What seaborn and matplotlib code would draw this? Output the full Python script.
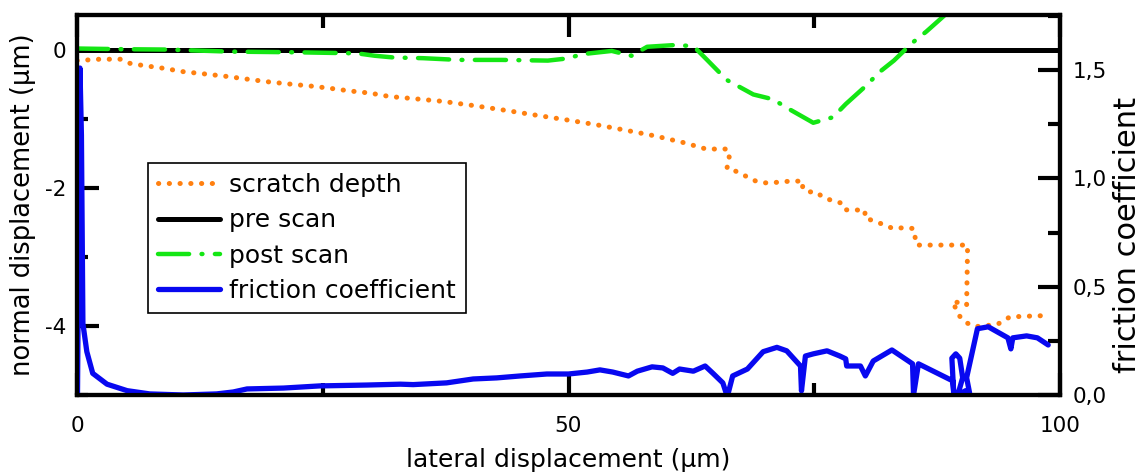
import matplotlib
matplotlib.use("Agg")
import matplotlib.pyplot as plt
from matplotlib.ticker import MultipleLocator, FixedLocator, FuncFormatter
import seaborn as sns
import pandas as pd

# scratch depth (um), left axis
depth_x = [0, 2.3, 4.4, 5.4, 6.7, 8.75, 10.8, 12.8, 15.3, 17.4, 19.6, 21.7, 23.9, 25.7,
           27.8, 29.8, 31.8, 34.2, 37.2, 40.3, 43.6, 46.7, 49.9, 52.9, 55.9, 58.8,
           61.8, 64.0, 66.2, 66.4, 66.1, 67.0, 68.0, 69.0, 69.9, 71.5, 72.8, 73.9,
           73.8, 74.3, 75.2, 75.9, 76.9, 77.7, 78.1, 79.1, 80.2, 80.1, 81.0, 82.0,
           83.0, 84.0, 85.1, 85.4, 90.6, 90.5, 89.1, 89.6, 90.4, 91.4, 93.6, 94.9,
           96.5, 98.8]
depth_y = [-0.16, -0.14, -0.14, -0.20, -0.23, -0.27, -0.32, -0.35, -0.39, -0.43, -0.47,
           -0.50, -0.53, -0.56, -0.60, -0.63, -0.68, -0.71, -0.75, -0.81, -0.88, -0.95,
           -1.02, -1.09, -1.17, -1.25, -1.35, -1.44, -1.44, -1.60, -1.72, -1.76, -1.83,
           -1.90, -1.93, -1.92, -1.90, -1.91, -2.00, -2.06, -2.06, -2.14, -2.19, -2.22,
           -2.32, -2.32, -2.33, -2.43, -2.48, -2.53, -2.59, -2.58, -2.59, -2.83, -2.83,
           -3.70, -3.64, -3.83, -3.95, -4.01, -3.98, -3.87, -3.86, -3.85]

# pre scan (um), left axis
pre_x = [0, 100]
pre_y = [0, 0]

# post scan (um), left axis
post_x = [0, 4.7, 9, 15.6, 22.4, 28.5, 30.3, 32.2, 35.2, 38.8, 43.2, 47.9, 49.8, 51.5,
          54.4, 56.4, 58, 60.8, 62.7, 64.1, 66.1, 68.8, 70.8, 72.3, 74.9, 76.9, 78.2,
          80.3, 81.6, 83.1, 85, 86.4, 87.9, 90]
post_y = [0.015, 0.005, 0.0, -0.03, -0.04, -0.055, -0.09, -0.115, -0.125, -0.15, -0.15,
          -0.16, -0.13, -0.065, -0.02, -0.09, 0.04, 0.065, 0.05, -0.15, -0.44, -0.65,
          -0.72, -0.85, -1.06, -0.98, -0.79, -0.52, -0.33, -0.16, 0.10, 0.26, 0.45, 0.72]

# friction coefficient, right axis
fric_x = [0.05, 0.3, 0.45, 0.6, 1.0, 1.6, 3.05, 5.1, 7.4, 10.8, 14.2, 15.9, 17.3, 21.0,
          24.7, 29.5, 32.9, 34.2, 37.6, 40.3, 42.7, 45.1, 47.8, 50.0, 51.9, 53.2, 54.5,
          56.1, 57.0, 58.5, 59.6, 60.6, 61.3, 62.7, 63.9, 64.7, 65.7, 66.1, 66.2, 66.7,
          68.2, 69.8, 71.2, 72.2, 73.6, 73.7, 74.1, 74.9, 76.3, 77.6, 78.2, 78.3, 79.7,
          80.2, 81.0, 82.9, 85.0, 85.1, 85.6, 89.1, 89.2, 89.0, 89.4, 89.8, 90.1, 89.6,
          90.4, 90.8, 90.5, 91.6, 92.7, 94.7, 95.0, 95.2, 96.6, 97.7, 98.8]
fric_y = [0.0, 1.51, 1.2, 0.33, 0.20, 0.10, 0.05, 0.02, 0.005, 0.0, 0.005, 0.014, 0.028,
          0.032, 0.042, 0.046, 0.05, 0.048, 0.056, 0.074, 0.079, 0.088, 0.097, 0.097,
          0.106, 0.116, 0.106, 0.088, 0.11, 0.13, 0.125, 0.10, 0.12, 0.11, 0.134, 0.10,
          0.056, 0.0, 0.0, 0.088, 0.12, 0.20, 0.22, 0.204, 0.134, 0.019, 0.18, 0.19,
          0.204, 0.18, 0.167, 0.134, 0.134, 0.088, 0.157, 0.208, 0.144, 0.0, 0.144,
          0.065, 0.0, 0.17, 0.19, 0.17, 0.08, 0.0, 0.02, 0.01, 0.08, 0.306, 0.315, 0.264,
          0.213, 0.264, 0.273, 0.264, 0.231]

sns.set_style("white")
plt.rcParams["font.family"] = ["DejaVu Sans"]
plt.rcParams["axes.unicode_minus"] = False
plt.rcParams["text.color"] = "black"
plt.rcParams["axes.labelcolor"] = "black"

fig = plt.figure(figsize=(11.41, 4.75), dpi=100)
ax = fig.add_axes([77 / 1141, 1 - 395 / 475, 983 / 1141, 380 / 475])
ax2 = ax.twinx()

kw = dict(sort=False, estimator=None, legend=False)
sns.lineplot(data=pd.DataFrame({"x": pre_x, "y": pre_y}), x="x", y="y", ax=ax,
             color="black", linewidth=3.6, **kw)
sns.lineplot(data=pd.DataFrame({"x": depth_x, "y": depth_y}), x="x", y="y", ax=ax,
             color="#FF8010", linewidth=3.6, linestyle=(0, (0.05, 2.1)),
             dash_capstyle="round", **kw)
sns.lineplot(data=pd.DataFrame({"x": post_x, "y": post_y}), x="x", y="y", ax=ax,
             color="#14E614", linewidth=3.2, linestyle=(0, (7, 2.8, 0.2, 2.8)),
             dash_capstyle="round", **kw)
sns.lineplot(data=pd.DataFrame({"x": fric_x, "y": fric_y}), x="x", y="y", ax=ax2,
             color="#0808F0", linewidth=3.8, solid_joinstyle="round", **kw)

ax.set_xlim(0, 100)
ax.set_ylim(-5, 0.5)
ax2.set_ylim(0, 1.755)

ax.set_xlabel("lateral displacement (µm)", fontsize=18, labelpad=9)
ax.set_ylabel("normal displacement (µm)", fontsize=18.5, labelpad=6)
ax2.set_ylabel("friction coefficient", fontsize=22, labelpad=6)
ax2.yaxis.set_label_coords(1.054, 0.42)

ax.xaxis.set_major_locator(FixedLocator([0, 50, 100]))
ax.xaxis.set_minor_locator(FixedLocator([25, 75]))
ax.yaxis.set_major_locator(FixedLocator([-4, -2, 0]))
ax.yaxis.set_minor_locator(MultipleLocator(1))
ax2.yaxis.set_major_locator(FixedLocator([0, 0.5, 1.0, 1.5]))
ax2.yaxis.set_minor_locator(MultipleLocator(0.25))
ax2.yaxis.set_major_formatter(FuncFormatter(lambda v, _: f"{v:.1f}".replace(".", ",")))

ax.tick_params(axis="x", which="both", direction="in", top=True, bottom=True, width=3,
               labelsize=15.5, pad=15, color="black", labelcolor="black")
ax.tick_params(axis="x", which="major", length=16)
ax.tick_params(axis="x", which="minor", length=9)
ax.tick_params(axis="y", which="both", direction="in", left=True, width=3,
               labelsize=15.5, pad=8, color="black", labelcolor="black")
ax.tick_params(axis="y", which="major", length=16)
ax.tick_params(axis="y", which="minor", length=8)
ax2.tick_params(axis="y", which="both", direction="in", right=True, width=3,
                labelsize=15.5, pad=9, color="black", labelcolor="black")
ax2.tick_params(axis="y", which="major", length=16)
ax2.tick_params(axis="y", which="minor", length=9)

for a in (ax, ax2):
    for s in a.spines.values():
        s.set_visible(True)
        s.set_linewidth(3)
        s.set_color("black")

handles = [ax.lines[1], ax.lines[0], ax.lines[2], ax2.lines[0]]
labels = ["scratch depth", "pre scan", "post scan", "friction coefficient"]
leg = ax2.legend(handles, labels, loc="upper left", bbox_to_anchor=(0.072, 0.61),
                 fontsize=18, frameon=True, fancybox=False, edgecolor="black",
                 framealpha=1, borderpad=0.4, labelspacing=0.45, handlelength=2.5,
                 handletextpad=0.35, borderaxespad=0)
leg.get_frame().set_linewidth(1.2)

fig.savefig("out.png", dpi=100)
